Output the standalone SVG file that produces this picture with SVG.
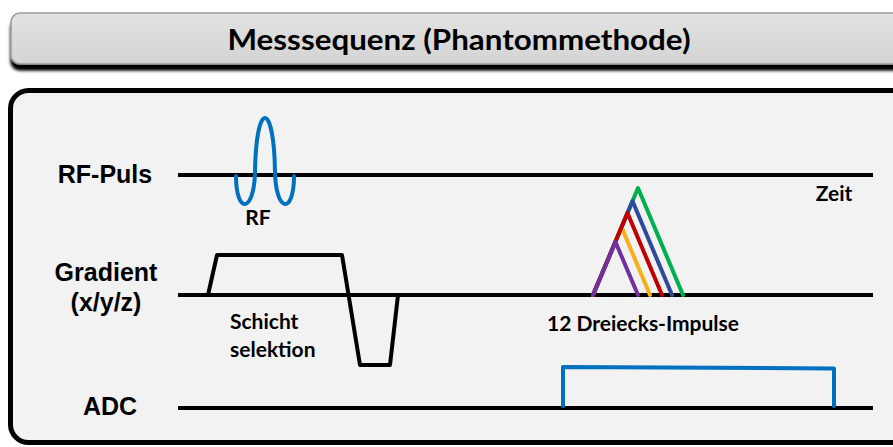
<svg xmlns="http://www.w3.org/2000/svg" width="893" height="447" viewBox="0 0 893 447">
<defs>
<linearGradient id="hg" x1="0" y1="0" x2="0" y2="1">
<stop offset="0" stop-color="#e2e2e2"/><stop offset="1" stop-color="#d4d4d4"/>
</linearGradient>
<filter id="sh" x="-5%" y="-20%" width="110%" height="160%">
<feDropShadow dx="0" dy="6" stdDeviation="1.5" flood-color="#000" flood-opacity="1"/>
</filter>
</defs>
<style>
.axis{stroke:#000;stroke-width:4;fill:none}
.lbl{font-family:"Liberation Sans",Arial,sans-serif;font-weight:bold;font-size:25px;fill:#000;text-anchor:middle}
.cal{font-family:Lato,"Open Sans",sans-serif;font-weight:bold;font-size:21px;fill:#000}
.wave{fill:none;stroke-width:4;stroke-linejoin:round;stroke-linecap:round}
</style>
<rect width="893" height="447" fill="#fff"/>
<g id="header">
<rect x="11" y="13" width="900" height="51" rx="9" fill="url(#hg)" stroke="#9a9a9a" stroke-width="1.5" filter="url(#sh)"/>
<text x="459" y="50" font-family="Lato,'Open Sans',sans-serif" font-weight="bold" font-size="29" text-anchor="middle" textLength="463" lengthAdjust="spacingAndGlyphs">Messsequenz (Phantommethode)</text>
</g>
<g id="panel">
<rect x="10.5" y="90.5" width="900" height="352" rx="18" fill="#f2f2f2" stroke="#000" stroke-width="5"/>
</g>
<g id="labels">
<text class="lbl" x="105" y="183">RF-Puls</text>
<text class="lbl" x="106" y="281">Gradient</text>
<text class="lbl" x="106" y="311">(x/y/z)</text>
<text class="lbl" x="110" y="415">ADC</text>
</g>
<g id="connectors">
<line class="axis" x1="178" y1="175" x2="873" y2="175"/>
<line class="axis" x1="178" y1="295" x2="873" y2="295"/>
<line class="axis" x1="178" y1="408" x2="873" y2="408"/>
</g>
<g id="rf-pulse">
<path class="wave" stroke="#0070c0" d="M236,176 C236,214 254,214 255,172 C256,100 274,100 275,172 C276,214 294,214 294,176"/>
<text class="cal" x="258" y="225" text-anchor="middle">RF</text>
<text class="cal" x="834" y="201" text-anchor="middle">Zeit</text>
</g>
<g id="gradient">
<path class="wave" stroke="#000" d="M208,295 L217,255 L342,255 L360,365 L390,365 L398,295"/>
<text class="cal" x="230" y="329">Schicht</text>
<text class="cal" x="230" y="357">selektion</text>
</g>
<g id="triangles">
<path class="wave" stroke="#00b050" d="M593,295 L638,188 L683,295"/>
<path class="wave" stroke="#2e4a9a" d="M593,295 L632.5,201 L672,295"/>
<path class="wave" stroke="#f5b01c" d="M593,295 L621.5,227 L650,295"/>
<path class="wave" stroke="#c00000" d="M593,295 L627.5,213 L662,295"/>
<path class="wave" stroke="#7030a0" d="M593,295 L615.5,242 L638,295"/>
<text class="cal" x="547" y="331">12 Dreiecks-Impulse</text>
</g>
<g id="adc">
<path class="wave" stroke="#0070c0" d="M563,406 L563,367 L834,368.5 L834,406"/>
</g>
</svg>
